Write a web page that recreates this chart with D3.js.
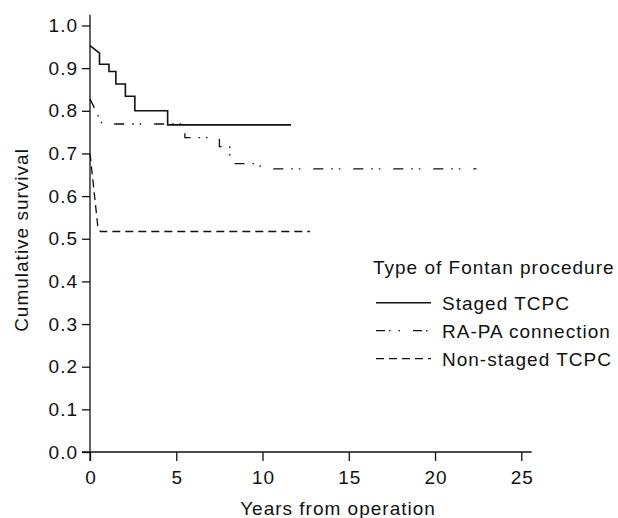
<!DOCTYPE html>
<html lang="en">
<head>
    <meta charset="UTF-8">
    <title>Cumulative survival by type of Fontan procedure</title>
    <script src="https://d3js.org/d3.v7.min.js"></script>
    <style>
        body {
            margin: 0;
            background: #fff;
        }
        svg text {
            font-family: "Liberation Sans", Arial, Helvetica, sans-serif;
            letter-spacing: 1px;
            fill: #111;
        }
        .axis path, .axis line {
            stroke: #111;
            stroke-width: 1.3px;
        }
    </style>
</head>
<body>
    <svg id="chart" width="618" height="518"></svg>

    <script>
        // survival curves (years, cumulative survival)
        const stagedTime = [0, 0.55, 0.55, 1.1, 1.1, 1.5, 1.5, 2.05, 2.05, 2.6, 2.6, 4.5, 4.5, 11.65];
        const stagedSurv = [0.953, 0.935, 0.909, 0.909, 0.892, 0.892, 0.863, 0.863, 0.834, 0.834, 0.800, 0.800, 0.767, 0.767];

        const rapaTime = [0, 0.7, 5.5, 5.5, 7.5, 7.5, 8.1, 8.1, 9.6, 10.2, 22.4];
        const rapaSurv = [0.828, 0.769, 0.769, 0.737, 0.737, 0.716, 0.716, 0.676, 0.676, 0.664, 0.664];

        const nonStagedTime = [0, 0.45, 0.6, 12.75];
        const nonStagedSurv = [0.70, 0.53, 0.517, 0.517];

        const xTicks = [0, 5, 10, 15, 20, 25];
        const yTicks = [0, 0.1, 0.2, 0.3, 0.4, 0.5, 0.6, 0.7, 0.8, 0.9, 1.0];

        const seriesNames = ["Staged TCPC", "RA-PA connection", "Non-staged TCPC"];
        const seriesDash = ["none", "10,8,1.5,6,1.5,13", "8,5"];
        const seriesWidth = [1.6, 1.3, 1.3];
        const legendTitle = "Type of Fontan procedure";

        const svg = d3.select("#chart");

        let x = d3.scaleLinear().domain([0, 25]).range([90, 521.3]);
        let y = d3.scaleLinear().domain([0, 1]).range([452, 25.5]);
        const fontSize = 19;

        // axes
        let xAxis = svg.append("g")
            .attr("class", "axis")
            .attr("transform", "translate(0,452)")
            .call(d3.axisBottom(x).tickValues(xTicks).tickSize(9).tickPadding(10).tickSizeOuter(0)
                .tickFormat(d3.format("d")));
        xAxis.select(".domain").attr("d", `M${x(0) - 8},0H${x(25.6)}`);
        xAxis.selectAll("text").attr("font-size", fontSize).attr("dx", "0.5");

        let yAxis = svg.append("g")
            .attr("class", "axis")
            .attr("transform", "translate(90,0)")
            .call(d3.axisLeft(y).tickValues(yTicks).tickSize(8).tickPadding(4).tickSizeOuter(0)
                .tickFormat(d3.format(".1f")));
        yAxis.select(".domain").attr("d", `M0,${y(1.025)}V${y(0) + 9}`);
        yAxis.selectAll("text").attr("font-size", fontSize);

        svg.append("text")
            .attr("x", 338)
            .attr("y", 515)
            .attr("text-anchor", "middle")
            .attr("font-size", fontSize)
            .text("Years from operation");

        svg.append("text")
            .attr("transform", "translate(28,240) rotate(-90)")
            .attr("text-anchor", "middle")
            .attr("font-size", fontSize)
            .text("Cumulative survival");

        // curves
        let line = d3.line().x(d => x(d[0])).y(d => y(d[1]));
        const curves = [
            d3.zip(stagedTime, stagedSurv),
            d3.zip(rapaTime, rapaSurv),
            d3.zip(nonStagedTime, nonStagedSurv)
        ];

        svg.selectAll(".curve")
            .data(curves)
            .enter().append("path")
            .attr("class", "curve")
            .attr("d", line)
            .attr("fill", "none")
            .attr("stroke", "#111")
            .attr("stroke-width", (d, i) => seriesWidth[i])
            .attr("stroke-dasharray", (d, i) => seriesDash[i]);

        // legend
        let legend = svg.append("g").attr("transform", "translate(373,0)");
        legend.append("text")
            .attr("x", 0)
            .attr("y", 274)
            .attr("font-size", fontSize)
            .text(legendTitle);

        let items = legend.selectAll(".item")
            .data(seriesNames)
            .enter().append("g")
            .attr("class", "item")
            .attr("transform", (d, i) => `translate(0,${302.7 + i * 28})`);

        items.append("line")
            .attr("x1", 3)
            .attr("x2", 58)
            .attr("stroke", "#111")
            .attr("stroke-width", (d, i) => seriesWidth[i])
            .attr("stroke-dasharray", (d, i) => i === 1 ? "9,4,1.5,8,1.5,13" : seriesDash[i]);

        items.append("text")
            .attr("x", 69)
            .attr("y", 7)
            .attr("font-size", fontSize)
            .text(d => d);
    </script>
</body>
</html>
